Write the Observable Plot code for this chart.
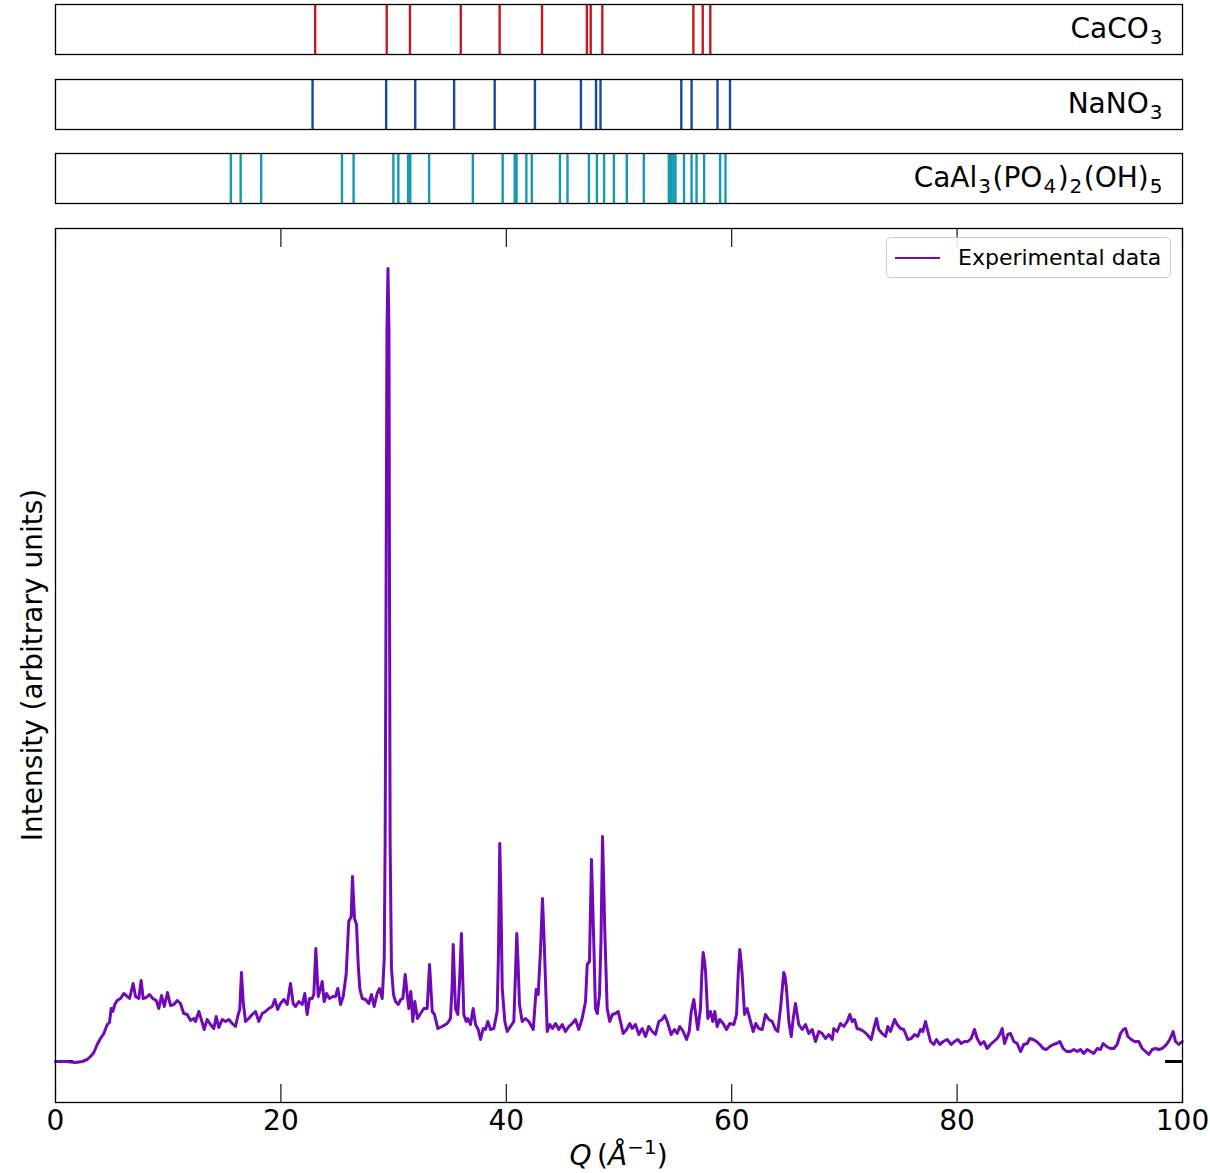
<!DOCTYPE html>
<html>
<head>
<meta charset="utf-8">
<script src="https://cdn.jsdelivr.net/npm/d3@7"></script>
<script src="https://cdn.jsdelivr.net/npm/@observablehq/plot@0.6"></script>
<style>
  html, body { margin: 0; padding: 0; background: #ffffff; }
  #root { position: relative; width: 1210px; height: 1173px; font-family: "DejaVu Sans", sans-serif; overflow: hidden; }
  .panel { position: absolute; left: 0; }
  .legend { position: absolute; left: 886px; top: 237px; width: 285px; height: 41px; border: 1.3px solid #cccccc; border-radius: 5px; background: rgba(255,255,255,0.85); box-sizing: border-box; }
  .legend .swatch { position: absolute; left: 8px; top: 18.5px; width: 45px; height: 2.8px; }
  .legend .label { position: absolute; left: 71px; top: 0; height: 39px; line-height: 39px; font-size: 22px; color: #000; white-space: nowrap; }
</style>
</head>
<body>
<div id="root"></div>
<script>
// ---------------- data ----------------
const xTicks = [0, 20, 40, 60, 80, 100];
const yTicks = [0];

const phaseNames = ["CaCO_3", "NaNO_3", "CaAl_3(PO_4)_2(OH)_5"];
const phaseColors = ["#c8161e", "#17499c", "#1399b4"];

const caco3Peaks = [23.04, 29.39, 31.45, 35.96, 39.41, 43.17, 47.15, 47.49, 48.52, 56.60, 57.43, 58.10];
const nano3Peaks = [22.81, 29.34, 31.92, 35.37, 38.97, 42.54, 46.62, 47.96, 48.36, 55.53, 56.44, 58.74, 59.85];
const crandallitePeaks = [15.56, 16.43, 18.25, 25.42, 26.45, 29.98, 30.42, 31.29, 31.48, 33.15, 37.03, 39.68,
  40.75, 40.91, 41.78, 42.26, 44.76, 45.43, 47.33, 48.04, 48.68, 49.55, 50.69, 52.20, 54.42, 54.61, 54.82,
  55.01, 55.77, 56.44, 56.88, 57.55, 58.97, 59.45];

const seriesName = "Experimental data";
const seriesColor = "#7009b6";

// [Q, intensity (arbitrary units)]
const spectrum = [
[0,0],[0.89,0],[1.77,-1],[2.37,0],[2.81,2],[3.11,5],[3.40,9],[3.70,17],[3.99,23],[4.29,28],[4.59,37],[4.79,39],[4.94,53],[5.08,50],[5.26,57],[5.47,61],[5.77,63],[6.06,68],[6.27,66],[6.57,63],[6.89,78],[7.10,65],[7.39,63],[7.60,81],[7.78,63],[8.05,64],[8.34,67],[8.63,63],[8.94,61],[9.17,53],[9.41,66],[9.65,55],[9.94,69],[10.20,56],[10.50,57],[10.80,61],[11.09,58],[11.38,48],[11.69,47],[11.98,41],[12.27,43],[12.42,40],[12.72,50],[13.02,39],[13.19,32],[13.46,42],[13.75,37],[14.05,33],[14.26,45],[14.49,34],[14.79,42],[15.08,40],[15.38,42],[15.68,38],[15.97,35],[16.21,47],[16.35,52],[16.50,89],[16.65,60],[16.86,40],[17.15,43],[17.45,47],[17.75,50],
[18.04,40],[18.34,48],[18.63,50],[18.93,53],[19.23,55],[19.46,62],[19.72,52],[19.96,58],[20.26,62],[20.56,57],[20.85,78],[21.09,58],[21.30,55],[21.59,60],[21.89,57],[22.12,68],[22.33,47],[22.54,63],[22.78,63],[22.92,67],[23.10,113],[23.31,65],[23.51,73],[23.66,80],[23.84,60],[24.05,68],[24.31,63],[24.61,65],[24.84,65],[25.05,73],[25.29,57],[25.53,65],[25.79,87],[26.02,140],[26.24,145],[26.35,185],[26.53,143],[26.71,137],[26.86,97],[27.00,73],[27.21,63],[27.51,62],[27.80,58],[28.04,67],[28.28,55],[28.54,68],[28.75,73],[28.99,63],[29.17,103],[29.25,220],[29.33,460],[29.41,730],[29.50,793],[29.59,730],[29.64,460],[29.69,220],[29.81,93],[29.99,67],[30.17,60],[30.41,57],[30.64,62],[30.82,63],[31.03,87],[31.21,67],[31.35,53],[31.53,70],[31.70,40],[31.88,60],[32.12,43],[32.39,48],[32.68,53],[32.98,53],[33.19,97],[33.43,50],[33.63,47],[33.92,33],[34.31,35],[34.76,38],[35.05,43],[35.20,77],[35.29,117],[35.49,53],[35.70,47],[35.85,80],[36.02,128],[36.23,47],[36.44,40],[36.58,43],[36.82,37],[37.06,53],[37.27,37],[37.51,32],[37.71,22],[37.95,33],[38.15,32],[38.36,40],[38.60,32],[38.89,33],[39.19,50],[39.31,110],[39.42,218],[39.53,160],[39.64,73],[39.87,40],[40.08,30],[40.37,35],[40.67,40],[40.82,90],[40.93,128],[41.04,100],[41.17,57],[41.41,40],[41.70,43],[42.00,40],[42.39,32],[42.65,72],[42.83,67],[43.03,110],[43.21,163],[43.33,130],[43.42,100],[43.63,30],[43.86,37],[44.10,33],[44.37,38],[44.66,32],[44.96,37],[45.25,30],[45.55,35],[45.85,38],[46.14,42],[46.43,32],[46.73,43],[47.03,60],[47.18,97],[47.38,100],[47.56,202],[47.76,120],[47.91,53],[48.07,48],[48.27,67],[48.40,120],[48.54,225],[48.64,180],[48.74,130],[48.95,53],[49.18,40],[49.42,47],[49.69,48],[49.93,50],[50.13,40],[50.37,28],[50.67,32],[50.96,38],[51.17,33],[51.46,37],[51.76,27],[52.06,33],[52.35,25],[52.64,35],[52.95,30],[53.24,27],[53.53,40],[53.83,42],[54.06,46],[54.28,40],[54.63,27],[54.92,32],[55.16,28],[55.39,35],[55.70,30],[55.99,22],[56.23,30],[56.41,50],[56.64,62],[56.81,47],[56.99,32],[57.23,53],[57.36,90],[57.47,109],[57.59,100],[57.68,90],[57.88,43],[58.12,50],[58.32,40],[58.50,50],[58.71,35],[58.94,42],[59.24,38],[59.54,32],[59.83,38],[60.19,37],[60.43,47],[60.59,90],[60.72,112],[60.83,100],[60.93,87],[61.14,47],[61.37,53],[61.67,40],[61.91,30],[62.14,38],[62.41,33],[62.71,32],[63.00,47],[63.29,42],[63.59,40],[63.89,32],[64.09,30],[64.33,53],[64.62,89],[64.73,85],[64.86,73],[65.07,40],[65.28,25],[65.46,43],[65.66,58],[65.95,37],[66.26,32],[66.55,37],[66.84,28],[67.14,32],[67.44,20],[67.73,30],[68.03,28],[68.32,23],[68.62,27],[68.92,22],[69.06,33],[69.36,30],[69.65,38],[69.95,35],[70.25,40],[70.48,47],[70.69,40],[70.90,42],[71.13,33],[71.43,32],[71.72,30],[72.02,27],[72.38,22],[72.61,33],[72.85,43],[73.05,32],[73.35,28],[73.65,25],[73.85,35],[74.09,30],[74.45,42],[74.68,37],[74.98,33],[75.27,32],[75.63,22],[75.93,23],[76.22,27],[76.51,25],[76.75,32],[76.96,30],[77.20,40],[77.35,33],[77.64,20],[77.93,17],[78.17,22],[78.46,17],[78.77,20],[79.12,22],[79.48,17],[79.77,20],[80.06,22],[80.36,18],[80.66,20],[80.95,20],[81.25,23],[81.54,32],[81.78,23],[82.08,17],[82.37,20],[82.67,13],[82.96,17],[83.26,20],[83.56,23],[83.79,27],[84.00,33],[84.21,18],[84.50,27],[84.74,28],[85.03,20],[85.33,18],[85.63,10],[85.92,17],[86.22,18],[86.45,23],[86.75,22],[87.05,20],[87.34,17],[87.64,13],[87.93,12],[88.23,15],[88.53,17],[88.82,18],[89.11,20],[89.41,13],[89.71,10],[90.06,10],[90.36,12],[90.66,10],[90.95,12],[91.24,8],[91.54,12],[91.84,10],[92.13,8],[92.43,13],[92.72,12],[92.96,18],[93.26,15],[93.61,13],[93.90,13],[94.20,17],[94.50,28],[94.74,32],[94.94,33],[95.15,25],[95.45,22],[95.74,20],[96.12,20],[96.43,13],[96.72,10],[97.02,7],[97.31,12],[97.60,13],[97.90,12],[98.20,13],[98.58,17],[98.87,22],[99.17,30],[99.38,20],[99.67,17],[99.97,20]
];

// ---------------- helpers ----------------
const SVGNS = "http://www.w3.org/2000/svg";
function subscriptify(textEl, spec, subSize, shift) {
  const parts = spec.split(/(_\d)/).filter(s => s.length);
  textEl.textContent = "";
  let shifted = false;
  for (const p of parts) {
    const ts = document.createElementNS(SVGNS, "tspan");
    if (p.startsWith("_")) {
      ts.textContent = p.slice(1);
      ts.setAttribute("font-size", subSize);
      ts.setAttribute("dx", 1);
      ts.setAttribute("dy", shifted ? 0 : shift);
      shifted = true;
    } else {
      ts.textContent = p;
      if (shifted) { ts.setAttribute("dy", -shift); ts.setAttribute("dx", 1.5); shifted = false; }
    }
    textEl.appendChild(ts);
  }
}

const root = document.getElementById("root");
const baseStyle = { fontFamily: "DejaVu Sans", background: "transparent", overflow: "visible" };

// ---------------- reference-phase panels ----------------
const panelPeaks = [caco3Peaks, nano3Peaks, crandallitePeaks];
const panelTops = [0, 75, 149];
phaseNames.forEach((name, k) => {
  const svg = Plot.plot({
    width: 1210, height: 58,
    marginLeft: 55, marginRight: 28, marginTop: 4, marginBottom: 4,
    x: { domain: [0, 100], axis: null },
    style: baseStyle,
    marks: [
      Plot.ruleX(panelPeaks[k], { x: d => d, stroke: phaseColors[k], strokeWidth: 2.4 }),
      Plot.frame({ stroke: "#000", strokeWidth: 1.3 }),
      Plot.text([name], { text: d => d.replace(/_/g, ""), frameAnchor: "right", dx: -20, dy: 0, textAnchor: "end", fontSize: 28, fill: "#000" })
    ]
  });
  const wrap = document.createElement("div");
  wrap.className = "panel";
  wrap.style.top = panelTops[k] + "px";
  wrap.appendChild(svg);
  root.appendChild(wrap);
  svg.querySelectorAll("text").forEach(t => subscriptify(t, name, 20, 6));
});

// ---------------- main panel ----------------
const mainTop = 218;
const data = spectrum.map(([q, i]) => ({ q, i }));
const mainSvg = Plot.plot({
  width: 1210, height: 955,
  marginLeft: 55, marginRight: 28, marginTop: 10, marginBottom: 71,
  x: { domain: [0, 100] },
  y: { domain: [-41, 833] },
  style: { ...baseStyle, fontSize: "28px" },
  marks: [
    Plot.axisY({ anchor: "left", ticks: yTicks, tickSize: -18, tickFormat: () => "", label: null, strokeWidth: 3 }),
    Plot.axisY({ anchor: "right", ticks: yTicks, tickSize: -18, tickFormat: () => "", label: null, strokeWidth: 3 }),
    Plot.line(data, { x: "q", y: "i", stroke: seriesColor, strokeWidth: 3, strokeLinejoin: "round" }),
    Plot.axisX({ anchor: "bottom", ticks: xTicks, tickSize: -18, tickPadding: 26, fontSize: 28, label: null, strokeWidth: 1.1 }),
    Plot.axisX({ anchor: "top", ticks: xTicks, tickSize: -18, tickFormat: () => "", label: null, strokeWidth: 1.1 }),
    Plot.frame({ stroke: "#000", strokeWidth: 1.3 })
  ]
});
const mainWrap = document.createElement("div");
mainWrap.className = "panel";
mainWrap.style.top = mainTop + "px";
mainWrap.appendChild(mainSvg);
root.appendChild(mainWrap);

// axis titles (real text)
const svgSel = d3.select(mainSvg);
const xt = svgSel.append("text")
  .attr("x", 618.5).attr("y", 1165 - mainTop)
  .attr("text-anchor", "middle")
  .attr("font-size", 28).attr("fill", "#000")
  .attr("font-family", "DejaVu Sans");
xt.append("tspan").attr("font-style", "italic").text("Q");
xt.append("tspan").text("\u2009(");
xt.append("tspan").attr("font-style", "italic").text("Å");
xt.append("tspan").attr("font-size", 20).attr("dy", -11).text("−1");
xt.append("tspan").attr("dy", 11).text(")");

svgSel.append("text")
  .attr("transform", `translate(42,${665 - mainTop}) rotate(-90)`)
  .attr("text-anchor", "middle")
  .attr("font-size", 28).attr("fill", "#000")
  .attr("font-family", "DejaVu Sans")
  .text("Intensity (arbitrary units)");

// legend
const legend = document.createElement("div");
legend.className = "legend";
legend.innerHTML = `<div class="swatch" style="background:${seriesColor}"></div><div class="label">${seriesName}</div>`;
root.appendChild(legend);
</script>
</body>
</html>
